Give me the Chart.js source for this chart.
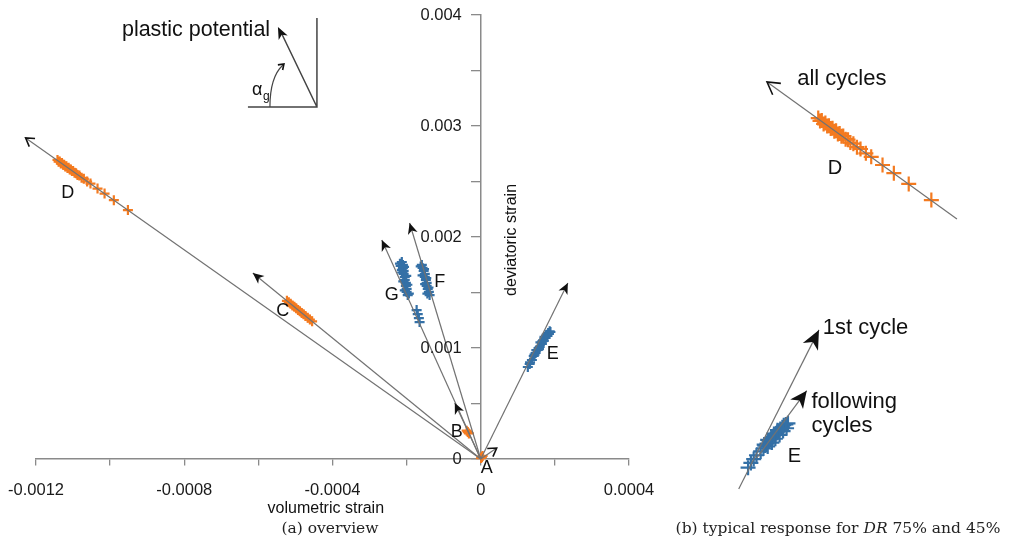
<!DOCTYPE html>
<html>
<head>
<meta charset="utf-8">
<title>strain paths</title>
<script src="https://cdn.jsdelivr.net/npm/chart.js@4.4.1/dist/chart.umd.min.js"></script>
<style>
  body { margin: 0; background: #fff; }
  #wrap { position: relative; width: 1011px; height: 545px; overflow: hidden; }
  canvas { position: absolute; top: 0; }
  #chartA { left: 0; }
  #chartB { left: 660px; }
  .cap { position: absolute; top: 519px; transform: translateX(-50%); font-family: 'DejaVu Serif', serif; font-size: 15.5px; color: #222; white-space: nowrap; }
</style>
</head>
<body>
<div id="wrap">
  <canvas id="chartA" width="660" height="545"></canvas>
  <canvas id="chartB" width="351" height="545"></canvas>
  <div class="cap" style="left:330px">(a) overview</div>
  <div class="cap" style="left:838px">(b) typical response for <i>DR</i> 75% and 45%</div>
</div>
<script>
// strain path directions, drawn from the origin (volumetric, deviatoric)
const pathNames = ['D', 'C', 'G', 'F', 'B', 'E', 'A'];
const pathTipVol = [-0.001228, -0.000615, -0.000267, -0.000192, -0.000070, 0.000235, 0.000043];
const pathTipDev = [0.002892, 0.001676, 0.001973, 0.002126, 0.000505, 0.001586, 0.000099];

// plastic strain increments per test
const dVol = [-0.001142, -0.001139, -0.001136, -0.001133, -0.001130, -0.001127, -0.001124, -0.001121, -0.001118,
  -0.001115, -0.001112, -0.001109, -0.001106, -0.001103, -0.001100, -0.001096, -0.001092, -0.001088, -0.001083,
  -0.001077, -0.001071, -0.001062, -0.001053, -0.001034, -0.001015, -0.000990, -0.000952];
const dDev = [0.002694, 0.002678, 0.002681, 0.002662, 0.002667, 0.002650, 0.002652, 0.002636, 0.002638,
  0.002621, 0.002624, 0.002607, 0.002609, 0.002594, 0.002595, 0.002578, 0.002575, 0.002559, 0.002553,
  0.002534, 0.002524, 0.002500, 0.002481, 0.002436, 0.002391, 0.002332, 0.002243];
const cVol = [-0.000523, -0.000518, -0.000513, -0.000508, -0.000503, -0.000498, -0.000493, -0.000488, -0.000483,
  -0.000478, -0.000473, -0.000467, -0.000461, -0.000455];
const cDev = [0.001425, 0.001412, 0.001398, 0.001384, 0.001371, 0.001357, 0.001343, 0.001330, 0.001316,
  0.001303, 0.001289, 0.001273, 0.001256, 0.001240];
const gVol = [-0.000213, -0.000216, -0.000210, -0.000213, -0.000210, -0.000208, -0.000208, -0.000205, -0.000205,
  -0.000202, -0.000202, -0.000200, -0.000200, -0.000197, -0.000218, -0.000207, -0.000212, -0.000201, -0.000209,
  -0.000198, -0.000205, -0.000194, -0.000173, -0.000170, -0.000167, -0.000165];
const gDev = [0.001775, 0.001739, 0.001748, 0.001703, 0.001721, 0.001694, 0.001667, 0.001640, 0.001613,
  0.001586, 0.001559, 0.001532, 0.001505, 0.001477, 0.001760, 0.001730, 0.001680, 0.001650, 0.001600,
  0.001570, 0.001520, 0.001490, 0.001342, 0.001306, 0.001270, 0.001234];
const fVol = [-0.000159, -0.000157, -0.000154, -0.000151, -0.000151, -0.000148, -0.000146, -0.000146, -0.000143,
  -0.000140, -0.000138, -0.000162, -0.000153, -0.000157, -0.000147, -0.000150, -0.000141, -0.000144];
const fDev = [0.001748, 0.001721, 0.001694, 0.001667, 0.001640, 0.001613, 0.001586, 0.001559, 0.001532,
  0.001505, 0.001477, 0.001735, 0.001710, 0.001655, 0.001630, 0.001575, 0.001545, 0.001490];
const eVol = [0.000127, 0.000132, 0.000138, 0.000143, 0.000148, 0.000154, 0.000159, 0.000165, 0.000170, 0.000175,
  0.000180, 0.000184, 0.000188, 0.000150, 0.000161, 0.000172, 0.000182, 0.000157, 0.000168, 0.000178,
  0.000133, 0.000145, 0.000156, 0.000166, 0.000176, 0.000186];
const eDev = [0.000829, 0.000856, 0.000892, 0.000928, 0.000955, 0.000982, 0.001009, 0.001036, 0.001063, 0.001090,
  0.001108, 0.001126, 0.001144, 0.000980, 0.001050, 0.001100, 0.001135, 0.000990, 0.001070, 0.001120,
  0.000870, 0.000940, 0.001000, 0.001060, 0.001110, 0.001150];
const bVol = [-0.000035, -0.000032, -0.000038];
const bDev = [0.000243, 0.000230, 0.000255];
const aVol = [0.000003, 0.000001, 0.000005];
const aDev = [0.000018, 0.000008, 0.000028];

// detail of test E: first cycle and following cycles
const eDetailVol = [0.000142, 0.000146, 0.000150, 0.000154, 0.000160, 0.000164, 0.000166, 0.000169, 0.000172, 0.000175,
  0.000177, 0.000180, 0.000183, 0.000185, 0.000188, 0.000191, 0.000193, 0.000196, 0.000199,
  0.000170, 0.000176, 0.000181, 0.000187, 0.000192, 0.000197, 0.000165, 0.000170, 0.000179, 0.000184];
const eDetailDev = [0.000863, 0.000885, 0.000903, 0.000921, 0.000939, 0.000953, 0.000966, 0.000975, 0.000989, 0.000998,
  0.001007, 0.001016, 0.001025, 0.001034, 0.001043, 0.001052, 0.001061, 0.001065, 0.001070,
  0.000962, 0.000980, 0.000998, 0.001016, 0.001034, 0.001047, 0.000971, 0.000993, 0.001020, 0.001038];
const allCyclesVol = [-0.000909, -0.001228];
const allCyclesDev = [0.002139, 0.002892];
const firstCycleVol = [0.0001286, 0.0002433];
const firstCycleDev = [0.0007635, 0.001506];
const followingVol = [0.0001542, 0.0002258];
const followingDev = [0.0009075, 0.0012225];

const ORANGE = '#f47a1f';
const BLUE = '#3470a6';
const PATH_GREY = '#727272';
const AXIS_GREY = '#8a8a8a';
const SANS = '"Liberation Sans", Arial, sans-serif';

const pts = (xs, ys) => xs.map((x, i) => ({ x: x, y: ys[i] }));
const fmt = v => String(Number(v.toFixed(4)));

function markers(xs, ys, color, r, extra) {
  return Object.assign({
    data: pts(xs, ys), showLine: false, pointStyle: 'cross', pointRadius: r,
    pointBorderColor: color, pointBorderWidth: 2.2, pointBackgroundColor: color, clip: false
  }, extra || {});
}

function path(xs, ys, head, extra) {
  return Object.assign({
    data: pts(xs, ys), showLine: true, pointRadius: 0, borderColor: PATH_GREY,
    borderWidth: 1.2, clip: false, head: head
  }, extra || {});
}

function drawHead(ctx, x, y, ang, h) {
  ctx.save();
  ctx.translate(x, y);
  ctx.rotate(ang);
  if (h.kind === 'open') {
    ctx.beginPath();
    ctx.moveTo(-h.len, -h.half);
    ctx.lineTo(0, 0);
    ctx.lineTo(-h.len, h.half);
    ctx.strokeStyle = '#111';
    ctx.lineWidth = 1.6;
    ctx.stroke();
  } else {
    ctx.beginPath();
    ctx.moveTo(0, 0);
    ctx.lineTo(-h.len, -h.half);
    ctx.lineTo(-h.len * 0.72, 0);
    ctx.lineTo(-h.len, h.half);
    ctx.closePath();
    ctx.fillStyle = '#111';
    ctx.fill();
  }
  ctx.restore();
}

// arrow heads at the last point of every path dataset
const arrowPlugin = {
  id: 'arrowHeads',
  afterDatasetsDraw(chart) {
    const ctx = chart.ctx;
    chart.data.datasets.forEach((ds, i) => {
      if (!ds.head) return;
      const p = chart.getDatasetMeta(i).data;
      const a = p[p.length - 2], b = p[p.length - 1];
      drawHead(ctx, b.x, b.y, Math.atan2(b.y - a.y, b.x - a.x), ds.head);
    });
  }
};

function textPlugin(items, extraDraw) {
  return {
    id: 'notes',
    afterDraw(chart) {
      const ctx = chart.ctx;
      ctx.save();
      ctx.fillStyle = '#111';
      items.forEach(t => {
        const px = chart.scales[t.xs || 'x'].getPixelForValue(t.x);
        const py = chart.scales[t.ys || 'y'].getPixelForValue(t.y);
        ctx.font = t.size + 'px ' + SANS;
        ctx.textAlign = t.align || 'center';
        ctx.textBaseline = 'middle';
        ctx.fillText(t.text, px, py);
      });
      ctx.restore();
      if (extraDraw) extraDraw(chart, ctx);
    }
  };
}

// y tick labels left of the crossing axis, axis titles and the plastic potential sketch
function overviewExtras(chart, ctx) {
  const sx = chart.scales.x, sy = chart.scales.y;
  const x0 = sx.getPixelForValue(0), y0 = sy.getPixelForValue(0);
  ctx.save();
  ctx.fillStyle = '#1a1a1a';
  ctx.font = '16.5px ' + SANS;
  ctx.textAlign = 'right';
  ctx.textBaseline = 'middle';
  sy.ticks.forEach(t => {
    if (Math.round(t.value * 10000) % 10 === 0) ctx.fillText(fmt(t.value), x0 - 19, sy.getPixelForValue(t.value));
  });
  ctx.fillStyle = '#111';
  ctx.font = '16px ' + SANS;
  ctx.textAlign = 'center';
  ctx.fillText('volumetric strain', sx.getPixelForValue(-0.000418), y0 + 50);
  ctx.translate(x0 + 31, sy.getPixelForValue(0.001973));
  ctx.rotate(-Math.PI / 2);
  ctx.fillText('deviatoric strain', 0, 0);
  ctx.restore();

  const cx = sx.getPixelForValue(-0.000442), cy = sy.getPixelForValue(0.003171);
  ctx.save();
  ctx.translate(cx, cy);
  ctx.strokeStyle = '#444';
  ctx.lineWidth = 1.5;
  ctx.beginPath();
  ctx.moveTo(-69, 0); ctx.lineTo(0, 0); ctx.lineTo(0, -89);
  ctx.moveTo(0, 0); ctx.lineTo(-37, -77);
  ctx.stroke();
  drawHead(ctx, -39, -80, Math.atan2(-80, -39), { kind: 'filled', len: 12, half: 5 });
  ctx.lineWidth = 1.2;
  ctx.beginPath();
  ctx.moveTo(-47, 0);
  ctx.quadraticCurveTo(-47, -30, -34, -42);
  ctx.stroke();
  drawHead(ctx, -33, -43, Math.atan2(-12, 13), { kind: 'open', len: 5, half: 3.5 });
  ctx.fillStyle = '#111';
  ctx.textBaseline = 'alphabetic';
  ctx.textAlign = 'left';
  ctx.font = '18px ' + SANS;
  ctx.fillText('\u03b1', -65, -12);
  ctx.font = '12px ' + SANS;
  ctx.fillText('g', -54, -7);
  ctx.font = '21.5px ' + SANS;
  ctx.fillText('plastic potential', -195, -71);
  ctx.restore();
}

const overviewLabels = [
  { text: 'D', x: -0.0011143, y: 0.0023964, size: 18 },
  { text: 'C', x: -0.0005342, y: 0.0013333, size: 18 },
  { text: 'G', x: -0.0002401, y: 0.0014775, size: 18 },
  { text: 'F', x: -0.0001106, y: 0.0015946, size: 18 },
  { text: 'E', x: 0.0001943, y: 0.0009459, size: 18 },
  { text: 'B', x: -0.0000648, y: 0.0002432, size: 18 },
  { text: 'A', x: 0.0000162, y: -0.0000811, size: 18 }
];

const openHead = { kind: 'open', len: 8, half: 5 };
const fillHead = { kind: 'filled', len: 11, half: 5 };
const pathDatasets = pathNames.map((n, i) =>
  path([0, pathTipVol[i]], [0, pathTipDev[i]], (n === 'D' || n === 'A') ? openHead : fillHead));

const tickFont = { family: SANS, size: 16.5 };

new Chart(document.getElementById('chartA'), {
  type: 'scatter',
  data: {
    datasets: pathDatasets.concat([
      markers(dVol, dDev, ORANGE, 5),
      markers(cVol, cDev, ORANGE, 5),
      markers(bVol, bDev, ORANGE, 5),
      markers(aVol, aDev, ORANGE, 5),
      markers(gVol, gDev, BLUE, 5),
      markers(fVol, fDev, BLUE, 5),
      markers(eVol, eDev, BLUE, 5)
    ])
  },
  options: {
    responsive: false,
    animation: false,
    events: [],
    layout: { padding: { left: 36, right: 31, top: 15, bottom: 86 } },
    plugins: { legend: { display: false }, tooltip: { enabled: false } },
    scales: {
      x: {
        type: 'linear', min: -0.0012, max: 0.0004, position: { y: 0 },
        afterFit: s => { s.height = 0; s.paddingLeft = 0; s.paddingRight = 0; },
        grid: { drawOnChartArea: false, tickLength: 6, color: AXIS_GREY, lineWidth: 1.3 },
        border: { color: AXIS_GREY, width: 1.5 },
        ticks: {
          stepSize: 0.0002, autoSkip: false, maxRotation: 0, padding: 16, color: '#1a1a1a', font: tickFont,
          callback: v => (Math.round(v * 10000) % 4 === 0 ? fmt(v) : '')
        }
      },
      y: {
        type: 'linear', min: 0, max: 0.004, position: { x: 0 },
        afterFit: s => { s.width = 0; s.paddingTop = 0; s.paddingBottom = 0; },
        grid: { drawOnChartArea: false, tickLength: 9, color: AXIS_GREY, lineWidth: 1.3 },
        border: { color: AXIS_GREY, width: 1.5 },
        ticks: { stepSize: 0.0005, autoSkip: false, display: false }
      }
    }
  },
  plugins: [arrowPlugin, textPlugin(overviewLabels, overviewExtras)]
});

const detailLabels = [
  { text: 'all cycles', x: -0.0011773, y: 0.0029079, xs: 'xD', ys: 'yD', size: 22, align: 'left' },
  { text: 'D', x: -0.0011138, y: 0.002415, xs: 'xD', ys: 'yD', size: 20 },
  { text: '1st cycle', x: 0.0002487, y: 0.001515, xs: 'xE', ys: 'yE', size: 22, align: 'left' },
  { text: 'following', x: 0.0002325, y: 0.0011685, xs: 'xE', ys: 'yE', size: 22, align: 'left' },
  { text: 'cycles', x: 0.0002325, y: 0.001056, xs: 'xE', ys: 'yE', size: 22, align: 'left' },
  { text: 'E', x: 0.0002082, y: 0.0009165, xs: 'xE', ys: 'yE', size: 20 }
];

const onD = { xAxisID: 'xD', yAxisID: 'yD' };
const onE = { xAxisID: 'xE', yAxisID: 'yE' };

new Chart(document.getElementById('chartB'), {
  type: 'scatter',
  data: {
    datasets: [
      path(allCyclesVol, allCyclesDev, { kind: 'open', len: 12, half: 7 }, onD),
      path(firstCycleVol, firstCycleDev, { kind: 'filled', len: 19, half: 8.5 }, onE),
      path(followingVol, followingDev, { kind: 'filled', len: 17, half: 8 }, onE),
      markers(dVol, dDev, ORANGE, 7.5, onD),
      markers(eDetailVol, eDetailDev, BLUE, 7.5, onE)
    ]
  },
  options: {
    responsive: false,
    animation: false,
    events: [],
    layout: { padding: 0 },
    plugins: { legend: { display: false }, tooltip: { enabled: false } },
    scales: {
      x: { display: false },
      y: { display: false },
      xD: { type: 'linear', display: false, min: -0.0013915, max: -0.0008345 },
      yD: { type: 'linear', display: false, min: 0.000401, max: 0.0032895 },
      xE: { type: 'linear', display: false, min: 0.00003, max: 0.00050385 },
      yE: { type: 'linear', display: false, min: 0.0005475, max: 0.003 }
    }
  },
  plugins: [arrowPlugin, textPlugin(detailLabels)]
});
</script>
</body>
</html>
